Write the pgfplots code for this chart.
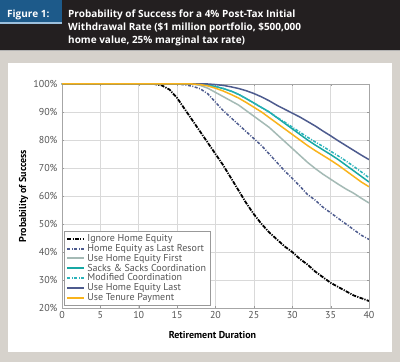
\documentclass[border=0pt]{standalone}
\usepackage{fontspec}
\setmainfont{PT Sans}
\newfontfamily\titlefont{Open Sans}
\usepackage{pgfplots}
\pgfplotsset{compat=1.18}
\definecolor{bgc}{HTML}{D6D2CC}
\definecolor{darkc}{HTML}{231F20}
\definecolor{bluec}{HTML}{1D5A8A}
\definecolor{lightbluec}{HTML}{9CC0DD}
\definecolor{navyc}{HTML}{4D5B8E}
\definecolor{grayc}{HTML}{A4BAB5}
\definecolor{tealc}{HTML}{17A8A4}
\definecolor{teal2c}{HTML}{2BB3BB}
\definecolor{orangec}{HTML}{F9B31B}
\definecolor{tickc}{HTML}{555555}
\begin{document}
\begin{tikzpicture}[x=1pt,y=1pt]
\useasboundingbox (0,0) rectangle (400,362);
\fill[bgc] (0,0) rectangle (400,362);
\fill[darkc] (0,312) rectangle (400,362);
\fill[bluec] (0,340) rectangle (62,362);
\fill[lightbluec] (0,337.5) rectangle (62,340);
\fill[gray!60] (0,310.5) rectangle (400,312);
\fill[white] (8,10) rectangle (392,299);
\node[anchor=base west, text=white, inner sep=0] at (7,344) {\titlefont\fontsize{10}{12}\selectfont\bfseries Figure 1:};
\node[anchor=base west, text=white, inner sep=0] at (68,344) {\titlefont\fontsize{10}{12}\selectfont\bfseries Probability of Success for a 4\% Post-Tax Initial};
\node[anchor=base west, text=white, inner sep=0] at (68,331) {\titlefont\fontsize{10}{12}\selectfont\bfseries Withdrawal Rate (\$1 million portfolio, \$500,000};
\node[anchor=base west, text=white, inner sep=0] at (68,318) {\titlefont\fontsize{10}{12}\selectfont\bfseries home value, 25\% marginal tax rate)};
\begin{axis}[
  at={(62pt,54pt)}, anchor=south west, scale only axis,
  width=307pt, height=224pt,
  xmin=0, xmax=40, ymin=20, ymax=100,
  xtick={0,5,...,40}, ytick={20,30,...,100},
  grid=major, grid style={draw=black!15, line width=0.6pt},
  axis line style={draw=black!35},
  tick style={draw=black!40},
  major tick length=2pt, tick align=inside,
  yticklabel={\pgfmathprintnumber{\tick}\%},
  ticklabel style={font=\fontsize{10}{10}\selectfont, text=tickc},
  yticklabel style={xshift=-1pt},
  /pgf/number format/assume math mode=true,
  xlabel={Retirement Duration},
  ylabel={Probability of Success},
  xlabel style={at={(axis description cs:0.49,-0.12)}, anchor=center, font=\fontsize{10}{10}\selectfont\bfseries},
  ylabel style={at={(axis description cs:-0.125,0.5)}, anchor=center, font=\fontsize{10}{10}\selectfont\bfseries},
  legend style={at={(0.007,0.013)}, anchor=south west, draw=black!40,
    font=\fontsize{10}{10}\selectfont, row sep=-0.8pt, inner xsep=2pt, inner ysep=2pt,
    nodes={inner ysep=1pt, inner xsep=2pt},
    text=tickc},
  legend image post style={line width=2pt},
  legend cell align=left,
]
\addplot[black, line width=1.8pt, dash pattern=on 4pt off 1.2pt on 1.2pt off 1.2pt] coordinates {
(0,100)(5,100)(10,100)(12,100)(13,99.5)(14,98)(15,95)(16,91)(17,87)(18,83)(19,79)(20,75)(21,71)(22,66.5)(23,62)(24,57.5)(25,53.5)(26,50)(27,47)(28,44.5)(29,42)(30,40)(31,37.5)(32,35.5)(33,33)(34,31)(35,29)(36,27.5)(37,26)(38,24.5)(39,23.5)(40,22.5)};
\addlegendentry{Ignore Home Equity}
\addplot[navyc, line width=1.5pt, dash pattern=on 3pt off 1.5pt on 1pt off 1.5pt] coordinates {
(0,100)(15,100)(16,99.7)(17,99.2)(18,98.3)(19,96.5)(20,93.5)(21,90.5)(22,88)(23,85.5)(24,83)(25,80.5)(26,78)(27,75)(28,72)(29,69)(30,66.3)(31,63.5)(32,60.5)(33,58.5)(34,56)(35,54)(36,52)(37,50)(38,48)(39,46)(40,44.5)};
\addlegendentry{Home Equity as Last Resort}
\addplot[grayc, line width=1.5pt] coordinates {
(0,100)(17,100)(18,99.5)(19,98.5)(20,97)(21,95.5)(22,94)(23,92.5)(24,90.5)(25,88.5)(26,86.5)(27,84.5)(28,82)(29,79.5)(30,77)(31,74.5)(32,72)(33,69.8)(34,67.8)(35,66)(36,64.2)(37,62.5)(38,61)(39,59.2)(40,57.5)};
\addlegendentry{Use Home Equity First}
\addplot[tealc, line width=1.5pt] coordinates {
(0,100)(18,100)(19,99.6)(20,99.1)(21,98.4)(22,97.5)(23,96.3)(24,94.8)(25,93.2)(26,91.6)(27,90)(28,88)(29,86)(30,84)(31,82)(32,80)(33,78.2)(34,76.5)(35,74.8)(36,73)(37,71)(38,69)(39,67)(40,65)};
\addlegendentry{Sacks \& Sacks Coordination}
\addplot[teal2c, line width=1.5pt, dash pattern=on 3pt off 1.5pt on 1pt off 1.5pt] coordinates {
(0,100)(18,100)(19,99.6)(20,99.1)(21,98.4)(22,97.5)(23,96.3)(24,94.8)(25,93.2)(26,91.6)(27,90)(28,88.1)(29,86.4)(30,84.6)(31,82.8)(32,81)(33,79.3)(34,77.7)(35,76)(36,74.3)(37,72.5)(38,70.6)(39,68.6)(40,66.5)};
\addlegendentry{Modified Coordination}
\addplot[navyc, line width=1.5pt] coordinates {
(0,100)(19,100)(20,99.8)(21,99.5)(22,99)(23,98.4)(24,97.6)(25,96.6)(26,95.4)(27,94)(28,92.4)(29,91)(30,89.6)(31,88.2)(32,86.6)(33,85)(34,83.2)(35,81.5)(36,79.7)(37,78)(38,76.3)(39,74.6)(40,73)};
\addlegendentry{Use Home Equity Last}
\addplot[orangec, line width=1.5pt] coordinates {
(0,100)(17,100)(18,99.8)(19,99.3)(20,98.5)(21,97.5)(22,96.3)(23,95)(24,93.4)(25,91.7)(26,90)(27,88)(28,86)(29,84)(30,82)(31,80)(32,78)(33,76.2)(34,74.5)(35,72.8)(36,71)(37,69)(38,67)(39,65)(40,63.3)};
\addlegendentry{Use Tenure Payment}
\end{axis}
\end{tikzpicture}
\end{document}
